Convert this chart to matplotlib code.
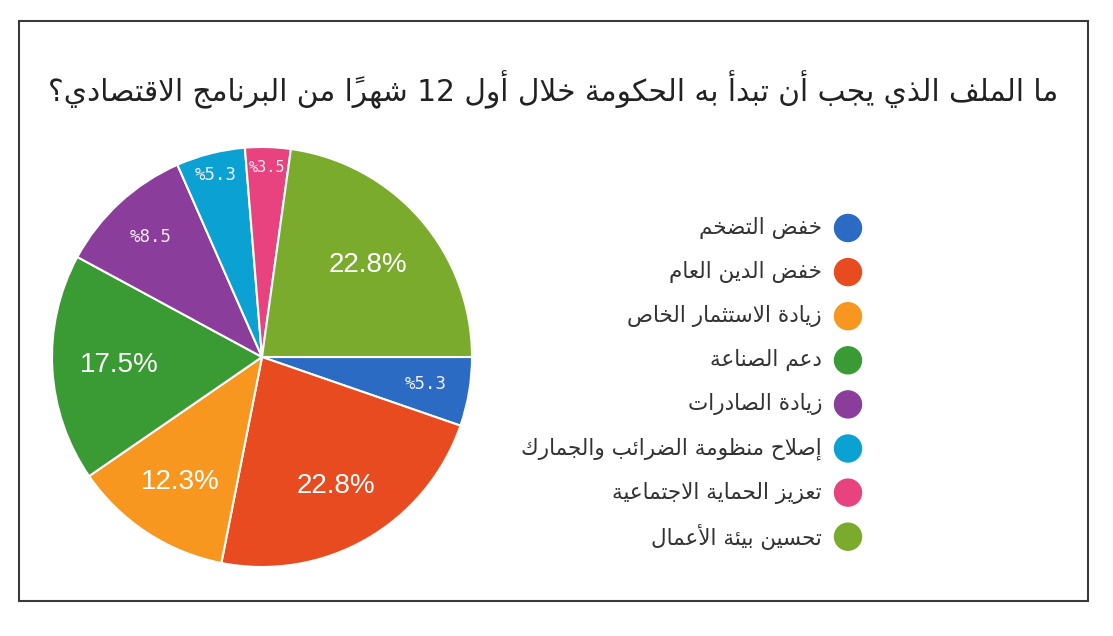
import matplotlib
matplotlib.use("Agg")
import matplotlib.pyplot as plt
from matplotlib.patches import Rectangle, Circle
import numpy as np

# ---------------- data ----------------
title = "ما الملف الذي يجب أن تبدأ به الحكومة خلال أول 12 شهرًا من البرنامج الاقتصادي؟"
categories = [
    "خفض التضخم",
    "خفض الدين العام",
    "زيادة الاستثمار الخاص",
    "دعم الصناعة",
    "زيادة الصادرات",
    "إصلاح منظومة الضرائب والجمارك",
    "تعزيز الحماية الاجتماعية",
    "تحسين بيئة الأعمال",
]
shares = [5.3, 22.8, 12.3, 17.5, 10.5, 5.3, 3.5, 22.8]
pct_labels = ["%5.3", "22.8%", "12.3%", "17.5%", "%8.5", "%5.3", "%3.5", "22.8%"]
colors = ["#2b6bc4", "#e84b1f", "#f7971f", "#3a9b35",
          "#8b3d9c", "#0ba1d3", "#e8437e", "#7aab2c"]

# ---------------- minimal Arabic shaping ----------------
_RJ = {0x0622: 0xFE81, 0x0623: 0xFE83, 0x0624: 0xFE85, 0x0625: 0xFE87,
       0x0627: 0xFE8D, 0x0629: 0xFE93, 0x062F: 0xFEA9, 0x0630: 0xFEAB,
       0x0631: 0xFEAD, 0x0632: 0xFEAF, 0x0648: 0xFEED, 0x0649: 0xFEEF}
_DJ = {0x0626: 0xFE89, 0x0628: 0xFE8F, 0x062A: 0xFE95, 0x062B: 0xFE99,
       0x062C: 0xFE9D, 0x062D: 0xFEA1, 0x062E: 0xFEA5, 0x0633: 0xFEB1,
       0x0634: 0xFEB5, 0x0635: 0xFEB9, 0x0636: 0xFEBD, 0x0637: 0xFEC1,
       0x0638: 0xFEC5, 0x0639: 0xFEC9, 0x063A: 0xFECD, 0x0641: 0xFED1,
       0x0642: 0xFED5, 0x0643: 0xFED9, 0x0644: 0xFEDD, 0x0645: 0xFEE1,
       0x0646: 0xFEE5, 0x0647: 0xFEE9, 0x064A: 0xFEF1}
_LA = {0x0622: 0xFEF5, 0x0623: 0xFEF7, 0x0625: 0xFEF9, 0x0627: 0xFEFB}


def _is_mark(c):
    o = ord(c)
    return 0x064B <= o <= 0x065F or o == 0x0670


def shape(s):
    clusters = []
    for c in s:
        if _is_mark(c) and clusters:
            clusters[-1][1].append(c)
        else:
            clusters.append([c, []])
    items = []
    i = 0
    while i < len(clusters):
        base, marks = clusters[i]
        if ord(base) == 0x0644 and i + 1 < len(clusters) and ord(clusters[i + 1][0]) in _LA:
            b = _LA[ord(clusters[i + 1][0])]
            items.append({"t": "R", "f": (b, b + 1), "m": marks + clusters[i + 1][1], "rtl": True})
            i += 2
            continue
        o = ord(base)
        if o in _DJ:
            b = _DJ[o]
            items.append({"t": "D", "f": (b, b + 1, b + 2, b + 3), "m": marks, "rtl": True})
        elif o in _RJ:
            b = _RJ[o]
            items.append({"t": "R", "f": (b, b + 1), "m": marks, "rtl": True})
        else:
            rtl = (0x0600 <= o <= 0x06FF) or base == " "
            items.append({"t": "U", "c": base, "m": marks, "rtl": rtl})
        i += 1
    n = len(items)
    out = []
    for k, it in enumerate(items):
        if it["t"] == "U":
            out.append(("".join(it["m"]) + it["c"], it["rtl"]))
            continue
        prev_j = k > 0 and items[k - 1]["t"] == "D"
        next_j = it["t"] == "D" and k + 1 < n and items[k + 1]["t"] in ("D", "R")
        f = it["f"]
        if prev_j and next_j:
            g = f[3]
        elif next_j:
            g = f[2]
        elif prev_j:
            g = f[1]
        else:
            g = f[0]
        # marks placed before base in visual order (font draws them to the right)
        out.append(("".join(it["m"]) + chr(g), True))
    vis = out[::-1]
    res = []
    j = 0
    while j < len(vis):
        if not vis[j][1]:
            run = []
            while j < len(vis) and not vis[j][1]:
                run.append(vis[j][0])
                j += 1
            res.extend(run[::-1])
        else:
            res.append(vis[j][0])
            j += 1
    return "".join(res)


# ---------------- figure ----------------
W, H = 1113, 636
fig = plt.figure(figsize=(W / 100, H / 100), dpi=100)
fig.patch.set_facecolor("white")

ov = fig.add_axes([0, 0, 1, 1])
ov.set_xlim(0, W)
ov.set_ylim(H, 0)
ov.axis("off")
ov.add_patch(Rectangle((19, 21), 1069, 580, fill=False, edgecolor="#3a3a3a", lw=1.5))

ov.text(553, 90, shape(title), ha="center", va="center", fontsize=21.3,
        family="DejaVu Sans", color="#222222")

# legend
for i, (cat, col) in enumerate(zip(categories, colors)):
    y = 228 + i * 44.1
    ov.add_patch(Circle((848, y), 13.5, color=col))
    ov.text(822, y, shape(cat), ha="right", va="center", fontsize=15.5,
            family="DejaVu Sans", color="#333333")

# pie
cx, cy, r = 262, 357, 210
pax = fig.add_axes([(cx - r) / W, (H - cy - r) / H, 2 * r / W, 2 * r / H])
wedges, _ = pax.pie(shares, colors=colors, startangle=0, counterclock=False,
                    wedgeprops=dict(edgecolor="white", linewidth=1.5))
pax.set_xlim(-1, 1)
pax.set_ylim(-1, 1)
pax.set_aspect("equal")

dists = [0.79, 0.71, 0.71, 0.68, 0.78, 0.895, 0.905, 0.67]
for w, lab, d in zip(wedges, pct_labels, dists):
    ang = np.deg2rad((w.theta1 + w.theta2) / 2)
    x, y = d * np.cos(ang), d * np.sin(ang)
    if lab.startswith("%"):
        fs = 11 if lab == "%3.5" else 12.5
        pax.text(x, y, lab, ha="center", va="center", fontsize=fs,
                 family="DejaVu Sans Mono", color="#f3eef5")
    else:
        pax.text(x, y, lab, ha="center", va="center", fontsize=20,
                 family="Liberation Sans", color="white")

fig.savefig("out.png", dpi=100)
